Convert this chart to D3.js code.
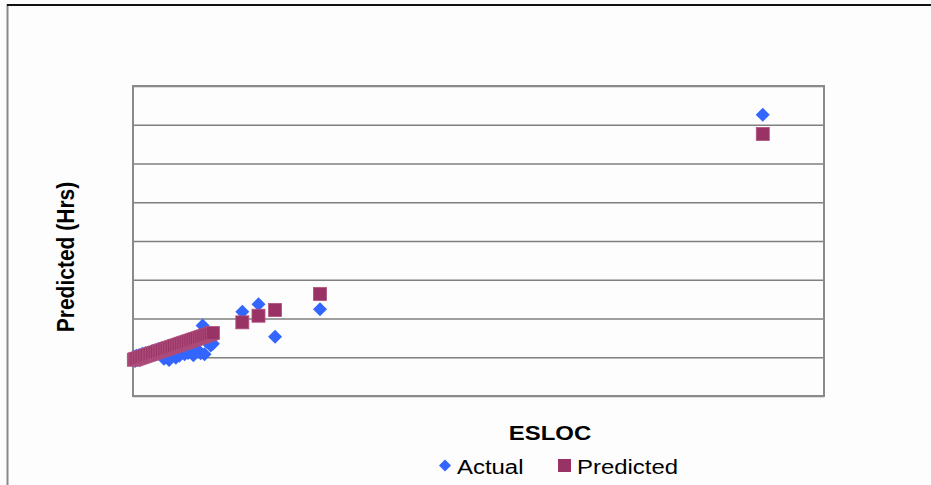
<!DOCTYPE html>
<html>
<head>
<meta charset="utf-8">
<script src="https://cdn.jsdelivr.net/npm/d3@7/dist/d3.min.js"></script>
<style>
  html, body { margin: 0; padding: 0; background: #fdfdfd; }
  svg { display: block; }
  text { font-family: "Liberation Sans", Arial, sans-serif; fill: #000; }
</style>
</head>
<body>
<svg id="chart" width="931" height="485"></svg>
<script>
// ESLOC (size) of each project
const esloc = [60, 150, 240, 330, 450, 560, 680, 800, 910, 1030, 1150, 1260, 1380, 1500,
  1620, 1750, 1870, 1990, 2110, 2240, 2360, 2480, 2610, 2730, 2850, 2980, 3100, 3230,
  3350, 3480, 3600, 3730, 3860, 3980, 4110, 4240, 4370, 4500, 4640, 4770, 4900, 5040,
  5180, 5320, 5470, 5620, 5780, 7910, 9080, 10280, 13530, 45570];

// Actual effort (hours)
const actualHrs = [1010, 900, 1040, 960, 1060, 940, 1090, 1000, 1110, 1020, 1120, 1050, 1160, 1070,
  1180, 1090, 1210, 1120, 1240, 960, 1000, 1180, 930, 1020, 1290, 1100, 990, 1150,
  1040, 1120, 1380, 1080, 1190, 1110, 1260, 1150, 1050, 1320, 1200, 1560, 1100, 1820,
  1080, 1400, 1480, 1300, 1350, 2175, 2366, 1530, 2237, 7258];

// Predicted effort (hours)
const predictedHrs = [936, 947, 958, 969, 983, 996, 1011, 1025, 1039, 1053, 1067, 1081, 1095, 1110,
  1124, 1140, 1154, 1169, 1183, 1199, 1213, 1228, 1243, 1258, 1272, 1288, 1302, 1318,
  1332, 1348, 1362, 1378, 1394, 1408, 1424, 1439, 1455, 1471, 1488, 1503, 1519, 1536,
  1553, 1570, 1588, 1606, 1625, 1901, 2072, 2219, 2632, 6760];

// Horizontal gridline positions (hours)
const yTicks = [0, 1000, 2000, 3000, 4000, 5000, 6000, 7000, 8000];

const seriesNames = ["Actual", "Predicted"];
const seriesColors = ["#3366ff", "#993366"];

const svg = d3.select("#chart");
const W = 931, H = 485;
const plot = { left: 133, right: 824, top: 86, bottom: 396 };

// Outer chart frame
svg.append("line").attr("x1", 7.5).attr("x2", 7.5).attr("y1", 4).attr("y2", H)
  .attr("stroke", "#8a8a8a").attr("stroke-width", 2);
svg.append("line").attr("x1", 7).attr("x2", W).attr("y1", 5).attr("y2", 5)
  .attr("stroke", "#111").attr("stroke-width", 2);

const x = d3.scaleLinear().domain([0, 50000]).range([plot.left, plot.right]);
const y = d3.scaleLinear().domain([0, 8000]).range([plot.bottom, plot.top]);

// Gridlines through the y axis generator (no labels)
const yAxis = d3.axisLeft(y).tickValues(yTicks).tickSize(-(plot.right - plot.left)).tickFormat("");
const gy = svg.append("g").attr("transform", `translate(${plot.left},0)`).call(yAxis);
gy.select(".domain").remove();
gy.selectAll(".tick line").attr("stroke", "#7f7f7f").attr("stroke-width", 1.6);

// Plot area border
svg.append("rect")
  .attr("x", plot.left).attr("y", plot.top)
  .attr("width", plot.right - plot.left).attr("height", plot.bottom - plot.top)
  .attr("fill", "none").attr("stroke", "#8a8a8a").attr("stroke-width", 2);

const diamond = d3.symbol().type(d3.symbolSquare).size(98);
const data = esloc.map((e, i) => ({ e, a: actualHrs[i], p: predictedHrs[i] }));

// Actual: blue diamonds
svg.append("g").selectAll("path").data(data).join("path")
  .attr("d", diamond)
  .attr("transform", d => `translate(${x(d.e)},${y(d.a)}) rotate(45)`)
  .attr("fill", seriesColors[0]);

// Predicted: maroon squares
const sq = 13;
svg.append("g").selectAll("rect").data(data).join("rect")
  .attr("x", d => x(d.e) - sq / 2)
  .attr("y", d => y(d.p) - sq / 2)
  .attr("width", sq).attr("height", sq)
  .attr("fill", seriesColors[1])
  .attr("stroke", "#b0507e").attr("stroke-width", 0.8);

// Axis titles
svg.append("text")
  .attr("transform", "translate(74,257) rotate(-90) scale(1,1.1)")
  .attr("text-anchor", "middle")
  .attr("font-size", 21).attr("font-weight", "bold")
  .text("Predicted (Hrs)");

svg.append("text")
  .attr("transform", "translate(550,440) scale(1.14,1)")
  .attr("text-anchor", "middle")
  .attr("font-size", 21).attr("font-weight", "bold")
  .text("ESLOC");

// Legend
const legend = svg.append("g");
legend.append("path")
  .attr("d", d3.symbol().type(d3.symbolSquare).size(72))
  .attr("transform", "translate(445,465.5) rotate(45)")
  .attr("fill", seriesColors[0]);
legend.append("text")
  .attr("transform", "translate(457,474) scale(1.14,1)")
  .attr("font-size", 21)
  .text(seriesNames[0]);
legend.append("rect")
  .attr("x", 558).attr("y", 459).attr("width", 13).attr("height", 13)
  .attr("fill", seriesColors[1]);
legend.append("text")
  .attr("transform", "translate(577,474) scale(1.14,1)")
  .attr("font-size", 21)
  .text(seriesNames[1]);
</script>
</body>
</html>
